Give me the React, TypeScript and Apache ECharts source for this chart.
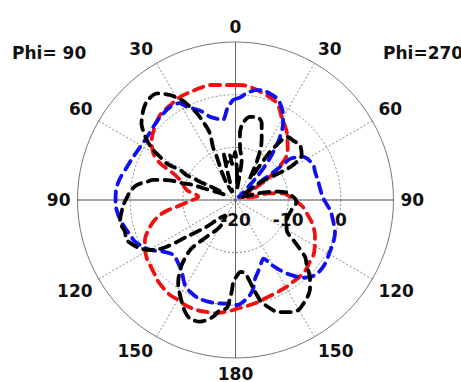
import React, { useEffect, useRef } from 'react';
import * as echarts from 'echarts';

// Angle tick labels (clockwise from top), mirrored on the left half
const angleLabels = ['0', '30', '60', '90', '120', '150', '180', '150', '120', '90', '60', '30'];
// Radial tick labels (dB) for ticks -20, -10, 0, 10
const radiusLabels = ['-20', '-10', '0', ''];
const sideTitles = ['Phi= 90', 'Phi=270'];

// Red trace: angle (deg, clockwise from top) and gain (dB)
const redAngle = [0, 4, 13, 23, 29, 37.5, 46, 49, 51.3, 55.4, 57.5, 59, 68, 80.4, 78.5, 82, 86.8, 91.6, 96, 102, 106, 114, 118, 125, 130, 134.5, 140, 145, 149, 155, 159, 165, 169, 175, 178.5, 181, 185, 189.4, 195.3, 199.4, 205.7, 209.8, 214.6, 218, 223.4, 227, 232.8, 236.7, 241.9, 246.2, 251, 255.2, 258.8, 261.5, 263.5, 268, 275, 281.6, 289.8, 293.2, 296, 299.6, 305.6, 312, 318.4, 325, 331.7, 337, 342.4, 347.5, 354.8, 360];
const redDb = [1.84, 1.84, 1.08, 0.03, -1.96, -3.96, -6.23, -7.09, -8.36, -11.65, -14.11, -15.69, -18.86, -16.24, -13.64, -10.83, -9.63, -8.38, -7.09, -5.95, -4.96, -3.48, -2.91, -1.9, -1.64, -1.2, -1.01, -1.01, -0.88, -0.78, -0.69, -0.37, -0.06, 0.32, 0.56, 0.89, 1.3, 1.8, 1.99, 2.14, 2.12, 1.87, 1.91, 1.7, 1.34, 0.89, 0.39, 0.16, -0.52, -1.2, -2.49, -3.86, -5.38, -7.09, -8.76, -11.04, -12.92, -10.54, -8.8, -7.15, -4.05, -2.06, -0.44, 0.64, 1.59, 1.84, 2.22, 2.22, 2.31, 2.37, 1.93, 1.84];

// Blue trace
const blueAngle = [0, 3, 6, 11, 14, 16.3, 22, 24.6, 28.6, 31.7, 35.5, 37.4, 38.8, 40.4, 41.3, 42.4, 44, 48, 54.2, 53.7, 53.5, 52.9, 53.4, 56.8, 59.6, 65.8, 70.4, 77.5, 82.1, 88.9, 96, 101.6, 108.3, 113.8, 120, 126, 132, 135, 139, 141.4, 145, 147.6, 151, 154.5, 157, 162.4, 166, 168.6, 171.3, 175.6, 179.3, 184.9, 190.3, 195, 200.7, 206.4, 210.7, 216.9, 222.1, 228.5, 234.4, 239.7, 243.1, 247.5, 251.6, 257.4, 262.7, 268.4, 274, 279.8, 287, 292.8, 299, 305.4, 311.5, 317.7, 324.8, 330, 332.5, 338.5, 343, 348.5, 351, 355, 358.6, 360];
const blueDb = [-0.82, -0.44, 0.43, 1.27, 1.45, 1.36, 0.89, 0.26, -1.2, -2.82, -5.57, -7.66, -9.03, -10.85, -11.99, -13.58, -16.01, -19.43, -16.2, -13.05, -9.88, -7.43, -6.71, -4.98, -4.34, -3.8, -3.97, -3.9, -3.8, -3.33, -1.96, -1.11, -0.1, 0.24, 0.51, 0.89, 0.89, 0.51, -0.44, -1.39, -2.91, -4.24, -5.95, -7.66, -7.28, -5.76, -4.62, -2.91, -1.77, -0.63, -0.06, -0.25, -0.06, -0.01, -0.06, -0.56, -1.2, -2.99, -3.8, -4.24, -3.14, -1.2, -0.37, 0.66, 1.08, 1.84, 2.44, 2.78, 2.78, 2.4, 1.53, 1.08, 0.7, 0.62, 0.89, 1.27, 1.59, 1.23, -0.06, -1.77, -3.48, -4.34, -4.62, -2.53, -1.01, -0.82];

// Black trace
const blackAngle = [3, 8, 9.5, 8.8, 4.9, 3.8, 5.6, 9.9, 14.5, 18.8, 23, 25.6, 29, 33.7, 35, 35.3, 35.5, 36.5, 37.4, 39, 45.6, 49.5, 55.8, 58, 59, 57.7, 55, 54.8, 65, 73.6, 77, 79, 82.8, 91.6, 100, 108, 114, 120.4, 124.7, 129.2, 132.4, 136.4, 139.8, 142.5, 145.7, 150.3, 154, 159, 164.3, 166.2, 168.8, 170.4, 172.6, 176, 179, 181.5, 182.4, 183.2, 184.7, 188, 190.8, 196.3, 201, 204.3, 207.9, 210.3, 214, 216, 219.6, 222, 222.1, 218.1, 210.1, 212, 222, 227.2, 233, 235.8, 238.7, 243.2, 249.8, 254, 259.4, 267.4, 271, 274.5, 278.6, 281.6, 283.7, 286.2, 287.7, 289.6, 290, 293, 296, 299.7, 297.7, 297, 297.4, 297, 298.4, 298, 298, 299.8, 301.3, 304, 307, 309, 314.3, 317.9, 321.9, 324, 328, 331.7, 333.7, 336, 337.5, 339, 337, 336.5, 334, 332, 338, 343, 344.5, 345.7, 347, 353, 354.4, 359.6, 363];
const blackDb = [-14.68, -17.72, -14.87, -12.31, -9.94, -7.28, -5.3, -3.99, -3.73, -4.56, -7.28, -8.8, -11.68, -15.06, -14.3, -10.32, -8.72, -7.41, -6.08, -4.54, -4.18, -3.9, -4.81, -6.29, -8.3, -11.13, -13.92, -17.34, -18.86, -15.48, -12.97, -11.65, -9.9, -8.38, -9.18, -9.56, -9.37, -8.74, -6.65, -2.97, -1.7, 0.51, 1.93, 2.73, 3.35, 4.06, 3.7, 2.78, 0.7, -0.44, -2.97, -4.62, -5.95, -6.33, -5.57, -4.43, -2.57, -1.3, 0.64, 1.08, 2.56, 4.08, 4.11, 3.28, 1.84, 0.89, -0.54, -1.58, -3.97, -6.71, -8.04, -11.15, -14.13, -16.58, -15.25, -12.54, -8.42, -4.2, -1.73, 0.32, 2.01, 1.84, 2.31, 1.32, 0.66, 0.09, -1.01, -2.78, -3.94, -6.41, -9.6, -11.49, -13.49, -16.2, -17.72, -16.2, -13.73, -12.41, -10.92, -9.56, -8.04, -6.61, -5.19, -3.48, -1.77, 0.32, 1.99, 2.97, 4.46, 5.16, 5.33, 5.01, 3.51, 1.57, -0.08, -1.96, -3.9, -6.39, -9.06, -11.08, -14.02, -16.39, -18.48, -16.39, -13.73, -10.6, -12.79, -11.46, -13.16, -10.89, -14.68];

const CX = 235.5;
const CY = 200;
const R = 158;

export default function App() {
  const ref = useRef<HTMLDivElement>(null);
  useEffect(() => {
    if (!ref.current) return;
    const chart = echarts.init(ref.current, null, { renderer: 'svg' });
    const font = { fontFamily: 'DejaVu Sans', fontWeight: 'bold' as const, fontSize: 17, color: '#111' };
    const mk = (name: string, angles: number[], db: number[], color: string, z: number) => ({
      type: 'line',
      name,
      coordinateSystem: 'polar',
      polarIndex: 0,
      data: angles.map((a, i) => [db[i], a]),
      symbol: 'none',
      smooth: 0.3,
      z,
      lineStyle: { color, width: 3.8, type: [10, 7], cap: 'round' },
    });
    chart.setOption({
      animation: false,
      polar: [
        { center: [CX, CY], radius: R },
        { center: [CX, CY], radius: R },
      ],
      angleAxis: [
        {
          polarIndex: 0, type: 'value', min: 0, max: 360, interval: 30, startAngle: 90, clockwise: true,
          axisLine: { show: true, lineStyle: { color: '#777', width: 1 } },
          axisTick: { show: false },
          axisLabel: { margin: 7, formatter: (v: number) => angleLabels[Math.round(v / 30) % 12], ...font },
          splitLine: { show: true, lineStyle: { color: '#8a8a8a', width: 1, type: [2, 2] } },
        },
        {
          polarIndex: 1, type: 'value', min: 0, max: 360, interval: 90, startAngle: 0, clockwise: true,
          axisLine: { show: false }, axisTick: { show: false }, axisLabel: { show: false },
          splitLine: { show: true, lineStyle: { color: '#666', width: 1 } },
        },
      ],
      radiusAxis: [
        {
          polarIndex: 0, type: 'value', min: -20, max: 10, interval: 10,
          axisLine: { show: false }, axisTick: { show: false }, axisLabel: { show: false }, splitLine: { show: false },
        },
        {
          polarIndex: 1, type: 'value', min: -20, max: 10, interval: 10,
          axisLine: { show: false }, axisTick: { show: false },
          axisLabel: {
            margin: -11, verticalAlign: 'top', align: 'center',
            formatter: (v: number) => radiusLabels[Math.round((v + 20) / 10)] ?? '',
            ...font,
          },
          splitLine: { show: true, lineStyle: { color: ['#8a8a8a', '#8a8a8a', '#8a8a8a', 'rgba(0,0,0,0)'], width: 1, type: [2, 2] } },
        },
      ],
      graphic: [
        { type: 'text', x: 12, y: 53, style: { text: sideTitles[0], font: 'bold 17px "DejaVu Sans"', fill: '#111', verticalAlign: 'middle' } },
        { type: 'text', x: 383, y: 53, style: { text: sideTitles[1], font: 'bold 17px "DejaVu Sans"', fill: '#111', verticalAlign: 'middle' } },
      ],
      series: [
        mk('red', redAngle, redDb, '#f01010', 3),
        mk('blue', blueAngle, blueDb, '#1010f0', 4),
        mk('black', blackAngle, blackDb, '#000000', 5),
      ],
    });
    return () => chart.dispose();
  }, []);
  return <div ref={ref} style={{ position: 'absolute', left: 0, top: 0, width: 461, height: 382 }} />;
}
